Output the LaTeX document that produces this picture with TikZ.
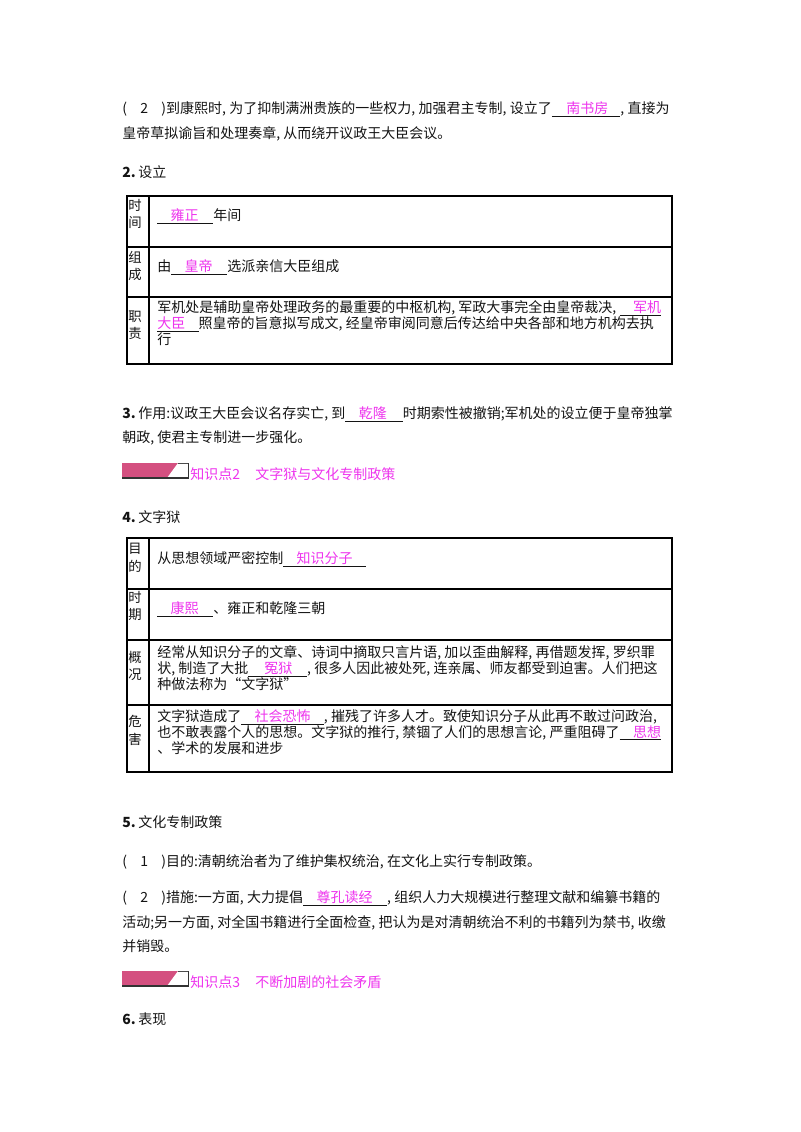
\documentclass[tikz,border=0pt]{standalone}
\usepackage{fontspec}
\setmainfont{Noto Sans CJK SC}
\usepackage{xcolor}
\definecolor{ans}{RGB}{238,52,238}
\definecolor{barpink}{RGB}{212,80,128}
\XeTeXlinebreaklocale "zh"
\XeTeXlinebreakskip=0pt plus 2pt
\newlength\pxu \setlength\pxu{0.75pt}
\newcommand{\blk}[3]{\underline{\hspace{#1}\textcolor{ans}{#2}\hspace{#3}}}
\newcommand{\cm}{,\kern2.5pt}
\newcommand{\fs}{\fontsize{10.5pt}{14pt}\selectfont}
\newcommand{\fsl}{\fontsize{10pt}{13pt}\selectfont}
\newcommand{\jl}[2]{\makebox[#1\pxu][s]{#2}}
\tikzset{
  tl/.style={anchor=base west,inner sep=0pt,font=\fs,text=black!92},
  lab/.style={anchor=base west,inner sep=0pt,font=\fsl,text=black!92},
  thick border/.style={line width=2.2pt},
  cell border/.style={line width=1.9pt},
  thin border/.style={line width=1.1pt},
  kbar/.pic={
    \fill[barpink] (0,0) rectangle (66,15);
    \fill[white] (45,15) -- (56,0) -- (66,0) -- (66,15) -- cycle;
    \draw[line width=0.5pt,black!70] (56,0) -- (66,0);
    \draw[line width=1pt,black!80] (0,15) -- (67,15) (66.5,0) -- (66.5,15);
  }
}
\begin{document}
\begin{tikzpicture}[x=0.75pt,y=-0.75pt]
\fill[white] (0,0) rectangle (800,1132);
\path[use as bounding box] (0,0) rectangle (800,1132);

% paragraph 1
\node[tl] (p1a) at (122,113) {\jl{543}{(\kern0.95em 2\kern0.95em)到康熙时\cm 为了抑制满洲贵族的一些权力\cm 加强君主专制\cm 设立了\blk{11pt}{南书房}{9pt}\cm 直接为}};
\node[tl] (p1b) at (122,138) {皇帝草拟谕旨和处理奏章\cm 从而绕开议政王大臣会议。};
\node[tl] (h2) at (122,177) {\textbf{2.}\kern2pt 设立};

% table 1
\draw[thick border] (127,196) rectangle (672,364);
\draw[cell border] (127,247) -- (672,247);
\draw[cell border] (149,196) -- (149,247);
\draw[thin border] (149,247) -- (149,364);
\draw[thin border] (127,297) -- (672,297);
\node[lab] (l11) at (128,210) {时};
\node[lab] (l12) at (128,227) {间};
\node[lab] (l21) at (128,262) {组};
\node[lab] (l22) at (128,279) {成};
\node[lab] (l31) at (128,321) {职};
\node[lab] (l32) at (128,338) {责};
\node[tl] (t1r1) at (157,220) {\blk{10pt}{雍正}{11pt}年间};
\node[tl] (t1r2) at (157,271) {由\blk{10pt}{皇帝}{11pt}选派亲信大臣组成};
\node[tl] (t1r3a) at (157,312) {\jl{507}{军机处是辅助皇帝处理政务的最重要的中枢机构\cm 军政大事完全由皇帝裁决\cm\blk{10pt}{军机}{0pt}}};
\node[tl] (t1r3b) at (157,328) {\jl{507}{\blk{0pt}{大臣}{10pt}照皇帝的旨意拟写成文\cm 经皇帝审阅同意后传达给中央各部和地方机构去执}};
\node[tl] (t1r3c) at (157,344) {行};

% section 3
\node[tl] (p3a) at (122,418) {\jl{543}{\textbf{3.}\kern2pt 作用:议政王大臣会议名存实亡\cm 到\blk{10pt}{乾隆}{12pt}时期索性被撤销;军机处的设立便于皇帝独掌}};
\node[tl] (p3b) at (122,442) {朝政\cm 使君主专制进一步强化。};

% banner 2
\pic (bn1) at (122,463) {kbar};
\node[tl,text=ans] (k2) at (190,479) {知识点2\kern1.1em 文字狱与文化专制政策};

\node[tl] (h4) at (122,522) {\textbf{4.}\kern2pt 文字狱};

% table 2
\draw[thick border] (127,538) rectangle (672,772);
\draw[cell border] (127,589) -- (672,589);
\draw[cell border] (149,538) -- (149,589);
\draw[thin border] (149,589) -- (149,772);
\draw[thin border] (127,640) -- (672,640);
\draw[thin border] (127,705) -- (672,705);
\node[lab] (m11) at (128,553) {目};
\node[lab] (m12) at (128,571) {的};
\node[lab] (m21) at (128,602) {时};
\node[lab] (m22) at (128,619) {期};
\node[lab] (m31) at (128,662) {概};
\node[lab] (m32) at (128,679) {况};
\node[lab] (m41) at (128,726) {危};
\node[lab] (m42) at (128,744) {害};
\node[tl] (t2r1) at (157,563) {从思想领域严密控制\blk{10pt}{知识分子}{10pt}};
\node[tl] (t2r2) at (157,613) {\blk{10pt}{康熙}{11pt}、雍正和乾隆三朝};
\node[tl] (t2r3a) at (157,657) {\jl{507}{经常从知识分子的文章、诗词中摘取只言片语\cm 加以歪曲解释\cm 再借题发挥\cm 罗织罪}};
\node[tl] (t2r3b) at (157,673) {\jl{507}{状\cm 制造了大批\blk{12pt}{冤狱}{11pt}\cm 很多人因此被处死\cm 连亲属、师友都受到迫害。人们把这}};
\node[tl] (t2r3c) at (157,689) {种做法称为“文字狱”};
\node[tl] (t2r4a) at (157,721) {\jl{507}{文字狱造成了\blk{10pt}{社会恐怖}{10pt}\cm 摧残了许多人才。致使知识分子从此再不敢过问政治,}};
\node[tl] (t2r4b) at (157,737) {\jl{507}{也不敢表露个人的思想。文字狱的推行\cm 禁锢了人们的思想言论\cm 严重阻碍了\blk{10pt}{思想}{0pt}}};
\node[tl] (t2r4c) at (157,753) {、学术的发展和进步};

% section 5
\node[tl] (h5) at (122,827) {\textbf{5.}\kern2pt 文化专制政策};
\node[tl] (p51) at (122,866) {(\kern0.95em 1\kern0.95em)目的:清朝统治者为了维护集权统治\cm 在文化上实行专制政策。};
\node[tl] (p52a) at (122,902) {\jl{543}{(\kern0.95em 2\kern0.95em)措施:一方面\cm 大力提倡\blk{10pt}{尊孔读经}{11pt}\cm 组织人力大规模进行整理文献和编纂书籍的}};
\node[tl] (p52b) at (122,927) {\jl{543}{活动;另一方面\cm 对全国书籍进行全面检查\cm 把认为是对清朝统治不利的书籍列为禁书\cm 收缴}};
\node[tl] (p52c) at (122,951) {并销毁。};

% banner 3
\pic (bn2) at (122,971) {kbar};
\node[tl,text=ans] (k3) at (190,987) {知识点3\kern1.1em 不断加剧的社会矛盾};

\node[tl] (h6) at (122,1024) {\textbf{6.}\kern2pt 表现};
\end{tikzpicture}
\end{document}
